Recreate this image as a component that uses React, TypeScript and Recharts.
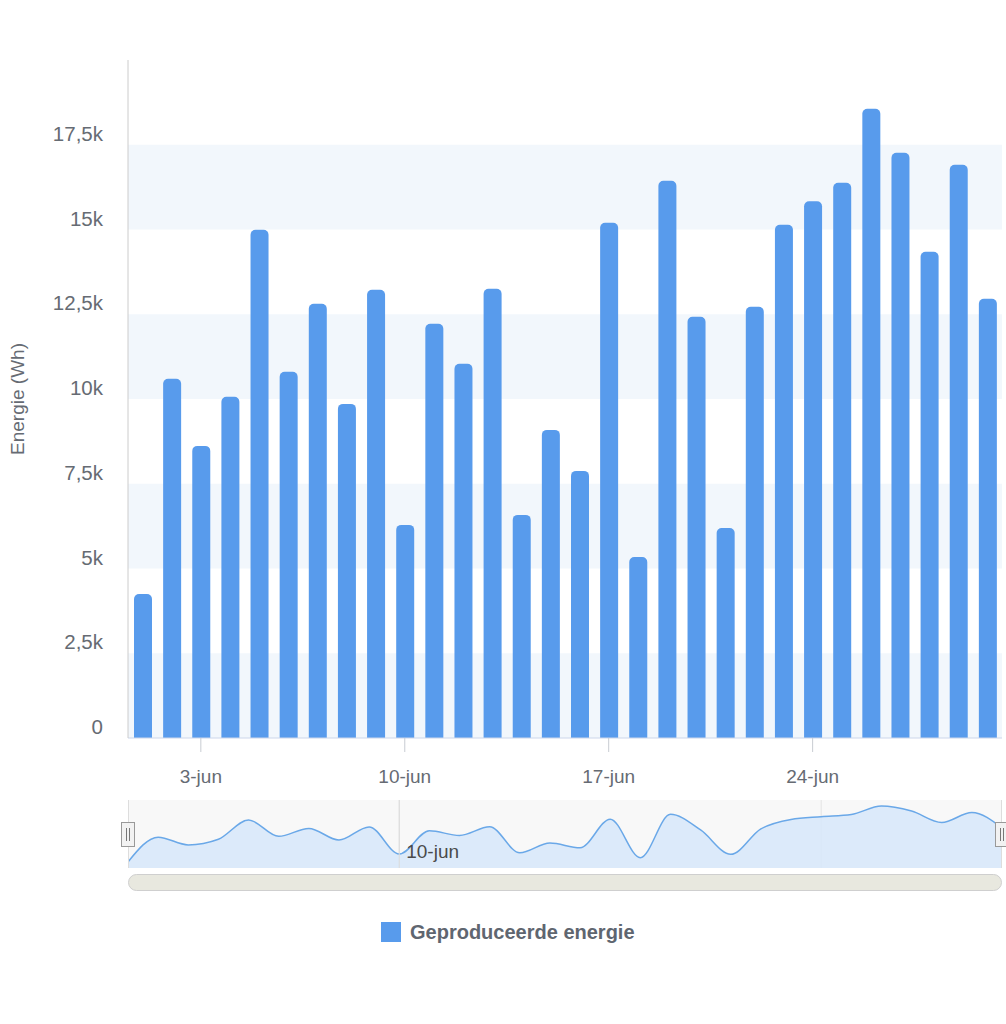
import React from 'react';
import { BarChart, Bar, XAxis, YAxis, ReferenceArea, ReferenceLine, AreaChart, Area, CartesianGrid } from 'recharts';

const days = Array.from({ length: 30 }, (_, i) => `${i + 1}-jun`);
const energy = [
  4250, 10594, 8617, 10063, 14991, 10801, 12807, 9856, 13220, 6286,
  12217, 11037, 13250, 6581, 9089, 7879, 15198, 5341, 16437, 12424,
  6197, 12719, 15139, 15832, 16378, 18562, 17263, 14342, 16909, 12955,
];
const yTicks = [0, 2500, 5000, 7500, 10000, 12500, 15000, 17500];
const yTickLabels = ['0', '2,5k', '5k', '7,5k', '10k', '12,5k', '15k', '17,5k'];
const xTickLabels = ['3-jun', '10-jun', '17-jun', '24-jun'];
const bandRanges: [number, number][] = [[0, 2500], [5000, 7500], [10000, 12500], [15000, 17500]];
const navTicks = [10, 24];
const navLabelDay = 10;
const navLabelText = '10-jun';

const mainData = days.map((d, i) => ({ day: d, value: energy[i] }));
const navData = energy.map((v, i) => ({ d: i + 1, v }));

const FONT = '"Liberation Sans", Arial, Helvetica, sans-serif';
const BAR = '#589bec';

const YTick = (props: any) => {
  const { x, y, payload } = props;
  const idx = yTicks.indexOf(payload.value);
  return (
    <text x={x - 25} y={y - 4} textAnchor="end" fontSize={20.5} fill="#666b73" fontFamily={FONT}>
      {yTickLabels[idx]}
    </text>
  );
};

const XTick = (props: any) => {
  const { x, y, payload } = props;
  if (!xTickLabels.includes(payload.value)) return <g />;
  return (
    <g>
      <line x1={x} x2={x} y1={y} y2={y + 14} stroke="#c8ccd2" strokeWidth={1} />
      <text x={x} y={y + 45} textAnchor="middle" fontSize={19} fill="#666b73" fontFamily={FONT}>
        {payload.value}
      </text>
    </g>
  );
};

const NavLabel = (props: any) => {
  const vb = props.viewBox || { x: 0, y: 0, width: 0, height: 68 };
  return (
    <text x={vb.x + 7} y={vb.y + vb.height - 10} textAnchor="start" fontSize={19} fill="#4a4a4a" fontFamily={FONT}>
      {navLabelText}
    </text>
  );
};

const YTitle = (props: any) => {
  const vb = props.viewBox || { x: 0, y: 60, width: 128, height: 678 };
  const cx = 24;
  const cy = vb.y + vb.height / 2;
  return (
    <text
      x={cx}
      y={cy}
      transform={`rotate(-90, ${cx}, ${cy})`}
      textAnchor="middle"
      fontSize={19}
      fill="#666b73"
      fontFamily={FONT}
    >
      Energie (Wh)
    </text>
  );
};

export default function App() {
  return (
    <div style={{ position: 'absolute', left: 0, top: 0, width: 1006, height: 1024, background: '#fff', fontFamily: FONT }}>
      <div style={{ position: 'absolute', left: 0, top: 0 }}>
        <BarChart width={1006} height={800} data={mainData} margin={{ top: 60, right: 4, bottom: 0, left: 0 }}>
          {bandRanges.map(([a, b]) => (
            <ReferenceArea key={a} y1={a} y2={b} fill="#f2f7fc" fillOpacity={1} stroke="none" strokeWidth={0} />
          ))}
          <XAxis
            dataKey="day"
            height={62}
            interval={0}
            tickSize={0}
            tickMargin={0}
            tickLine={false}
            axisLine={{ stroke: '#ccd6eb' }}
            tick={<XTick />}
          />
          <YAxis
            width={128}
            domain={[0, 20000]}
            ticks={yTicks}
            tickSize={0}
            tickMargin={0}
            tickLine={false}
            axisLine={{ stroke: '#cccccc' }}
            tick={<YTick />}
            label={<YTitle />}
          />
          <Bar dataKey="value" fill={BAR} barSize={18} radius={[5, 5, 0, 0]} isAnimationActive={false} />
        </BarChart>
      </div>

      <div style={{ position: 'absolute', left: 128, top: 800 }}>
        <AreaChart width={874} height={68} data={navData} margin={{ top: 0, right: 0, bottom: 0, left: 0 }}>
          <CartesianGrid horizontal={false} vertical={true} stroke="#e3e3e3" fill="#f8f8f8" />
          <XAxis dataKey="d" type="number" domain={[1, 30]} ticks={navTicks} hide />
          <YAxis hide domain={[2700, 20100]} />
          <Area
            type="monotone"
            dataKey="v"
            stroke="#6aa8e8"
            strokeWidth={1.5}
            fill="#d8e8fa"
            fillOpacity={0.9}
            dot={false}
            activeDot={false}
            isAnimationActive={false}
          />
          <ReferenceLine x={navLabelDay} stroke="#dcdcdc" strokeWidth={1} label={<NavLabel />} />
        </AreaChart>
      </div>

      <svg width={1006} height={1024} style={{ position: 'absolute', left: 0, top: 0, pointerEvents: 'none' }}>
        <line x1={128.5} x2={128.5} y1={800} y2={868} stroke="#dddddd" />
        <line x1={1001.5} x2={1001.5} y1={800} y2={868} stroke="#dddddd" />
        <rect x={121.5} y={822.5} width={13} height={24} fill="#f2f2f2" stroke="#999" strokeWidth={1} />
        <line x1={126.5} x2={126.5} y1={828} y2={841} stroke="#777" />
        <line x1={129.5} x2={129.5} y1={828} y2={841} stroke="#777" />
        <rect x={995.5} y={822.5} width={13} height={24} fill="#f2f2f2" stroke="#999" strokeWidth={1} />
        <line x1={1000.5} x2={1000.5} y1={828} y2={841} stroke="#777" />
        <line x1={1003.5} x2={1003.5} y1={828} y2={841} stroke="#777" />
        <rect x={128.5} y={874.5} width={873} height={16} rx={8} ry={8} fill="#e8e8df" stroke="#cfcfcf" />
      </svg>

      <div style={{ position: 'absolute', left: 381, top: 922, display: 'flex', alignItems: 'center' }}>
        <div style={{ width: 20, height: 20, background: BAR }} />
        <span style={{ marginLeft: 9, fontSize: 20, fontWeight: 'bold', color: '#5f6670', fontFamily: FONT, lineHeight: '20px' }}>
          Geproduceerde energie
        </span>
      </div>
    </div>
  );
}
